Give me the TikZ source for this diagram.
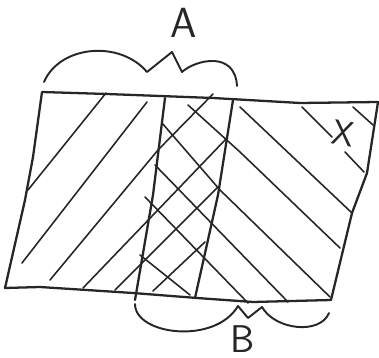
\documentclass[tikz,border=0pt]{standalone}
\usepackage{tikz}

\begin{document}
\begin{tikzpicture}[x=0.02cm, y=-0.02cm,
  frame/.style={draw=black!85, line width=1.3pt, line join=round, line cap=round},
  hatch/.style={draw=black!85, line width=0.9pt, line cap=round, line join=round},
  curly/.style={draw=black!85, line width=1.1pt, line cap=round, line join=round},
  lbl/.style={text=black!85, inner sep=0pt, font=\sffamily\fontsize{24}{24}\selectfont}]
  \useasboundingbox (0,0) rectangle (379,358);

  % Outer frame
  \coordinate (tl) at (42,92);
  \coordinate (tr) at (378,102);
  \coordinate (br) at (331,300);
  \coordinate (bl) at (5,288);
  \draw[frame] (tl) -- (107,94) -- (213,98) -- (300,103) -- (tr)
    -- (367,173) -- (352,213) -- (br)
    -- (253,302) -- (197,298) -- (133,293) -- (40,287) -- (bl)
    -- (25,200) -- (33,157) -- cycle;

  % Borders of the two sets
  \draw[frame] (165,98) -- (153,195) -- (135,300);
  \draw[frame] (233,100) -- (218,195) -- (195,298);

  % Hatching of A
  \draw[hatch] (106,93) -- (28,190);
  \draw[hatch] (147,102) -- (22,263);
  \draw[hatch] (213,94) -- (158,150) -- (50,280);
  \draw[hatch] (227,138) -- (83,288);
  \draw[hatch] (218,187) -- (115,290);
  \draw[hatch] (205,242) -- (153,291);

  % Hatching of B
  \draw[hatch] (188,105) -- (240,152) -- (340,248);
  \draw[hatch] (240,107) -- (352,213);
  \draw[hatch] (302,107) -- (332,137);
  \draw[hatch] (345,152) -- (364,172);
  \draw[hatch] (353,107) -- (373,125);
  \draw[hatch] (162,123) -- (220,190) -- (330,297);
  \draw[hatch] (155,165) -- (288,302);
  \draw[hatch] (145,197) -- (248,303);
  \draw[hatch] (140,255) -- (190,295);

  % Braces
  \draw[curly] (44,82) .. controls (60,45) and (120,40) .. (147,72)
    -- (172,52) -- (182,72) .. controls (195,60) and (235,50) .. (237,86);
  \draw[curly] (135,304) .. controls (135,335) and (215,345) .. (238,306)
    -- (248,318) -- (262,307) .. controls (275,330) and (320,335) .. (329,313);

  % Labels
  \node[lbl] (labelA) at (184,23) {A};
  \node[lbl, font=\sffamily\fontsize{22}{22}\selectfont] (labelB) at (243,339) {B};
  \node[lbl, font=\sffamily\fontsize{20}{20}\selectfont, rotate=-10] (labelX) at (343,133) {X};
\end{tikzpicture}
\end{document}
